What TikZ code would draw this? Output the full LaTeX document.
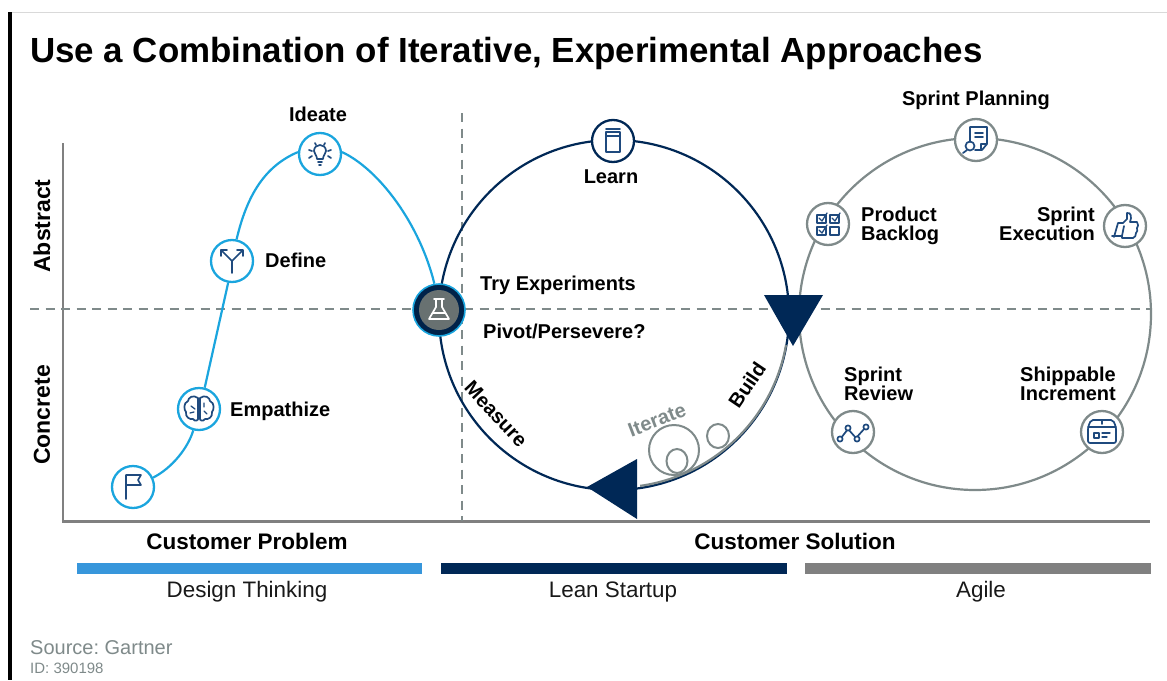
\documentclass[tikz,border=0pt]{standalone}
\usepackage{fontspec}
\setmainfont{Liberation Sans}
\frenchspacing
\definecolor{navy}{HTML}{002856}
\definecolor{skyl}{HTML}{1AA5DE}
\definecolor{barblue}{HTML}{3796DB}
\definecolor{grayl}{HTML}{7F8A8A}
\definecolor{axisg}{HTML}{808080}
\definecolor{iconb}{HTML}{1F4A7E}
\definecolor{srcg}{HTML}{7F8A8A}
\newcommand{\fs}[1]{\fontsize{#1}{19}\selectfont}
\tikzset{
  x=1pt,y=-1pt,
  dashline/.style={draw=grayl,line width=2pt,dash pattern=on 9pt off 6.5pt},
  axisline/.style={draw=axisg,line width=2.2pt},
  dnode/.style={circle,draw=skyl,fill=white,line width=2.3pt,minimum size=42pt,inner sep=0pt},
  lnode/.style={circle,draw=navy,fill=white,line width=2.3pt,minimum size=42pt,inner sep=0pt},
  anode/.style={circle,draw=grayl,fill=white,line width=2.3pt,minimum size=42pt,inner sep=0pt},
  lab/.style={font=\bfseries\fs{20},text=black,inner sep=0pt,align=center},
  axlab/.style={font=\bfseries\fs{23},text=black,inner sep=0pt},
  cat/.style={font=\bfseries\fs{22.5},text=black,inner sep=0pt},
  meth/.style={font=\fs{22.4},text=black!90,inner sep=0pt},
  ico/.style={draw=iconb,line width=1.7pt,line cap=round,line join=round},
  icothin/.style={draw=iconb,line width=1.3pt,line cap=round,line join=round},
}
\begin{document}
\begin{tikzpicture}
\useasboundingbox[fill=white] (0,0) rectangle (1167,680);
% page frame
\draw[draw=black!15,line width=1pt] (10,12.5) -- (1167,12.5);
\fill[black] (8,12) rectangle (12,680);
% title
\node[anchor=west,inner sep=0pt,font=\bfseries\fs{34.9}] (title) at (30,53) {Use a Combination of Iterative, Experimental Approaches};
% axes and dashed guides
\coordinate (vtop) at (63,143); \coordinate (orig) at (63,521.5); \coordinate (hend) at (1150,521.5);
\draw[axisline] (vtop) -- (orig) -- (hend);
\coordinate (dl) at (30,309); \coordinate (dr) at (1150,309);
\coordinate (dt) at (462,113); \coordinate (db) at (462,521);
\draw[dashline] (dl) -- (dr);
\draw[dashline] (dt) -- (db);
% loops
\draw[navy,line width=2.2pt] (614,315) circle (175);
\draw[grayl,line width=2.2pt] (975,314) circle (176);
% iterate arc + circles
\draw[grayl,line width=2.2pt] (786,345) arc[start angle=-10,end angle=-82,radius=172.5,x radius=172.5,y radius=-172.5];
\draw[grayl,line width=2pt] (674,450) circle (25);
\draw[grayl,line width=2pt] (677,461) ellipse (10.5 and 12);
\draw[grayl,line width=2pt] (718,436) ellipse (11 and 12);
% nodes
\node[dnode] (flag) at (133,487) {};
\node[dnode] (emp) at (199,409) {};
\node[dnode] (def) at (232,261) {};
\node[dnode] (ide) at (320,154) {};
\node[circle,fill=navy!85!black,draw=skyl,line width=1.6pt,minimum size=52pt,inner sep=0pt] (flask) at (439,310) {};
\fill[grayl!82!black] (flask.center) circle (20);
% design thinking connectors
\draw[skyl,line width=2.2pt] (flag.25) .. controls (172,468) and (188,448) .. (emp.-105);
\draw[skyl,line width=2.2pt] (emp.75) -- (def.-100);
\draw[skyl,line width=2.2pt] (def.78) .. controls (247,195) and (265,166) .. (ide.175);
\draw[skyl,line width=2.2pt] (ide.5) .. controls (380,170) and (420,225) .. (flask.100);
% lean and agile nodes
\node[lnode] (learn) at (613,141) {};
\node[anode] (plan) at (976,140) {};
\node[anode] (back) at (828,224) {};
\node[anode] (exec) at (1125,226) {};
\node[anode] (rev) at (853,432) {};
\node[anode] (ship) at (1102,432) {};
% arrowheads
\fill[navy] (764,295) -- (823,295) -- (793,346) -- cycle;
\fill[navy] (587,487) -- (637,459) -- (637,519) -- cycle;
% icons
\begin{scope}[shift={(133,487)}] % flag
\draw[ico] (-7,12) -- (-7,-12) -- (8,-12) -- (5,-7) -- (8,-2) -- (-7,-2);
\end{scope}
\begin{scope}[shift={(199,409)}] % brain
\draw[ico] (-1,-11) .. controls (-6,-15) and (-11,-11) .. (-11,-8) .. controls (-16,-6) and (-15,1) .. (-13,3) .. controls (-14,8) and (-9,11) .. (-6,10) .. controls (-4,13) and (0,12) .. (-1,8) -- cycle;
\draw[ico] (1,-11) .. controls (6,-15) and (11,-11) .. (11,-8) .. controls (16,-6) and (15,1) .. (13,3) .. controls (14,8) and (9,11) .. (6,10) .. controls (4,13) and (0,12) .. (1,8) -- cycle;
\draw[icothin] (-8,-3) -- (-4,0) (-9,4) -- (-5,3) (5,-6) -- (5,-2) (5,2) -- (8,5);
\end{scope}
\begin{scope}[shift={(232,261)}] % fork
\draw[ico] (0,12) -- (0,0) -- (-10,-10) (0,0) -- (10,-10);
\draw[ico] (-11,-5) -- (-11,-11) -- (-5,-11) (11,-5) -- (11,-11) -- (5,-11);
\end{scope}
\begin{scope}[shift={(320,154)}] % bulb
\draw[ico] (-3,5) .. controls (-3,1) and (-6,0) .. (-6,-3) .. controls (-6,-11) and (6,-11) .. (6,-3) .. controls (6,0) and (3,1) .. (3,5) -- cycle;
\draw[ico] (-2,8) -- (2,8) (-1,11) -- (1,11);
\draw[ico] (-11,-4) -- (-8,-3) (-11,4) -- (-8,2) (11,-4) -- (8,-3) (11,4) -- (8,2) (-5,-11) -- (-4,-9) (5,-11) -- (4,-9);
\end{scope}
\begin{scope}[shift={(439,310)}] % flask
\draw[white,line width=1.7pt,line join=round,line cap=round] (-5,-11) -- (5,-11) (-3,-11) -- (-3,-3) -- (-10,9) -- (10,9) -- (3,-3) -- (3,-11) (-6,3) -- (6,3);
\end{scope}
\begin{scope}[shift={(613,141)}] % learn book
\draw[ico] (-7,-9) rectangle (7,11);
\draw[ico] (-7,-5) -- (7,-5);
\draw[ico] (-7,-12) -- (7,-12);
\end{scope}
\begin{scope}[shift={(976,140)}] % plan doc + magnifier
\draw[ico] (-6,2) -- (-6,-13) -- (11,-13) -- (11,4) -- (6,10) -- (-1,10);
\draw[ico] (-1,-7) -- (7,-7) (-1,-3) -- (7,-3);
\draw[ico] (5,9) -- (5,4) -- (10,4);
\draw[ico] (-6,6) circle (4.5);
\draw[ico] (-9,10) -- (-13,13);
\end{scope}
\begin{scope}[shift={(828,224)}] % backlog
\draw[ico] (-11,-9) rectangle (-2,-1) (2,-9) rectangle (11,-1) (-11,3) rectangle (-2,11) (2,3) rectangle (11,11);
\draw[icothin] (-9,-6) -- (-6,-3) -- (-1,-11) (4,-6) -- (7,-3) -- (12,-11) (-9,6) -- (-6,9) -- (-1,1);
\end{scope}
\begin{scope}[shift={(1125,226)}] % thumb
\draw[ico] (-11,11) -- (-7,-3) -- (-2,-3) -- (2,-7) -- (2,-13) .. controls (6,-14) and (7,-9) .. (5,-4) -- (12,-4) .. controls (14,-2) and (13,1) .. (12,2) .. controls (13,4) and (12,6) .. (11,7) .. controls (11,10) and (10,11) .. (8,12) -- (-3,12) -- (-3,10) -- (-13,10);
\draw[ico] (-3,10) -- (-1,0);
\end{scope}
\begin{scope}[shift={(853,432)}] % review chart
\draw[ico] (-12,6) -- (-5,-3) -- (3,6) -- (12,-4);
\foreach \p in {(-13,7),(-5,-4),(4,7),(13,-5)} {\draw[ico,fill=white] \p circle (2.6);}
\end{scope}
\begin{scope}[shift={(1102,432)}] % box
\draw[ico,rounded corners=2pt] (-14,11) -- (-14,-5) -- (-11,-12) -- (11,-12) -- (14,-5) -- (14,11) -- cycle;
\draw[ico] (-14,-5) -- (14,-5) (0,-12) -- (0,-8);
\draw[icothin] (-8,1) rectangle (-3,6);
\draw[icothin] (0,1) -- (8,1) (0,5) -- (5,5);
\end{scope}
% labels
\node[lab] (tide) at (318,114.5) {Ideate};
\node[lab,anchor=west] (tdef) at (265,260) {Define};
\node[lab,anchor=west] (temp) at (230,411.5) {Empathize};
\node[lab] (tlearn) at (611,176.5) {Learn};
\node[lab,anchor=west] (ttry) at (480,285.5) {Try Experiments};
\node[lab,anchor=west] (tpiv) at (483,331) {Pivot/Persevere?};
\node[lab,rotate=-47] (tmeas) at (496,414) {Measure};
\node[lab,rotate=56] (tbuild) at (747,385) {Build};
\node[lab,rotate=21,text=grayl] (titer) at (657,420) {Iterate};
\node[lab] (tplan) at (976,100) {Sprint Planning};
\node[lab,anchor=west,align=left] (tback) at (861,226) {Product\\Backlog};
\node[lab,anchor=east,align=right] (texec) at (1095,223.5) {Sprint\\Execution};
\node[lab,anchor=west,align=left] (trev) at (844,383.5) {Sprint\\Review};
\node[lab] (tship) at (1068,383.5) {Shippable\\Increment};
\node[axlab,rotate=90] (tabs) at (42,226) {Abstract};
\node[axlab,rotate=90] (tcon) at (42,415) {Concrete};
\node[cat] (tprob) at (247,541.5) {Customer Problem};
\node[cat] (tsol) at (795,541.5) {Customer Solution};
\fill[barblue] (77,563) rectangle (422,574);
\fill[navy] (441,563) rectangle (787,574);
\fill[axisg] (805,563) rectangle (1151,574);
\node[meth] (tdt) at (247,591.5) {Design Thinking};
\node[meth] (tls) at (613,591.5) {Lean Startup};
\node[meth] (tag) at (981,591.5) {Agile};
\node[anchor=west,inner sep=0pt,text=srcg,font=\fs{20}] (tsrc) at (30,648) {Source: Gartner};
\node[anchor=west,inner sep=0pt,text=srcg,font=\fs{15}] (tid) at (30,668) {ID: 390198};
\end{tikzpicture}
\end{document}
